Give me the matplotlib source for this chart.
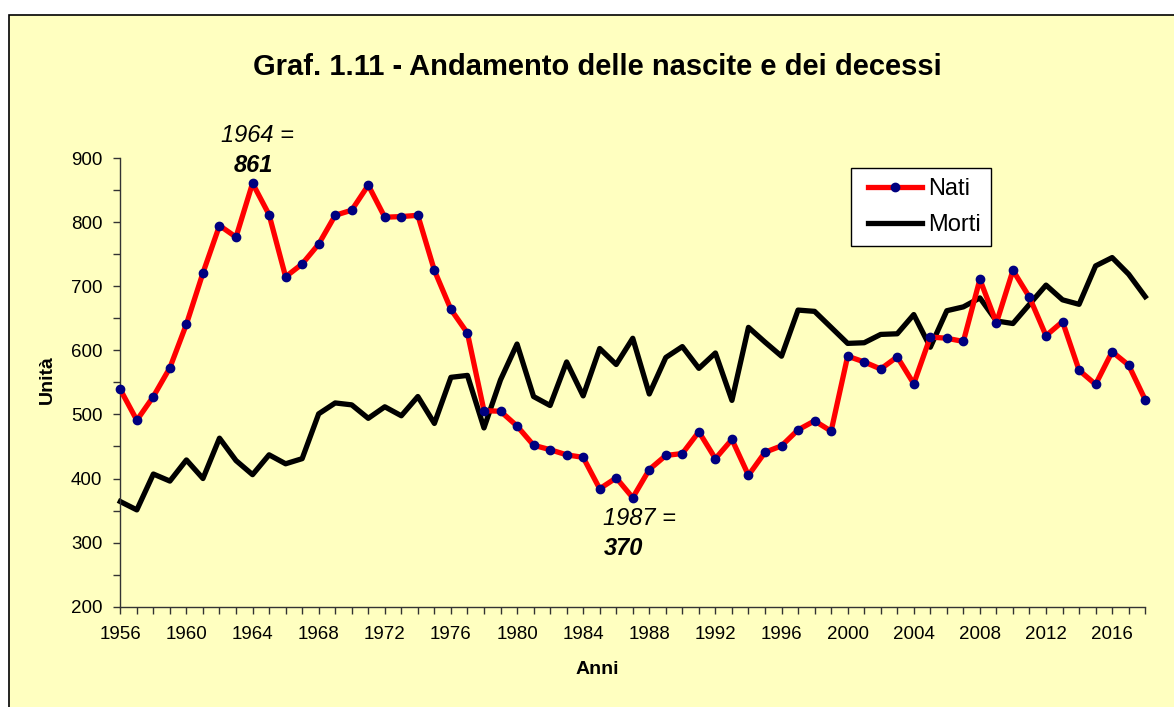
import matplotlib.pyplot as plt
import matplotlib.ticker as mticker
from matplotlib.patches import Rectangle
from matplotlib.legend_handler import HandlerLine2D

plt.rcParams['font.family'] = ['Liberation Sans', 'DejaVu Sans']

# Data
anni = list(range(1956, 2019))
nati = [539, 491, 528, 573, 641, 721, 795, 777, 861, 812,
        715, 735, 766, 811, 819, 858, 808, 809, 811, 725,
        664, 627, 506, 505, 482, 452, 445, 437, 433, 384,
        401, 370, 414, 436, 439, 473, 431, 461, 405, 441,
        451, 476, 490, 474, 591, 582, 571, 590, 548, 621,
        619, 614, 711, 643, 725, 683, 623, 645, 569, 547,
        598, 577, 523]
morti = [364, 351, 407, 396, 429, 400, 463, 428, 406, 437,
         423, 431, 501, 518, 515, 494, 512, 498, 528, 486,
         558, 561, 479, 554, 610, 528, 514, 582, 529, 603,
         578, 619, 532, 589, 606, 572, 596, 522, 636, 613,
         591, 663, 661, 636, 611, 612, 625, 626, 656, 605,
         662, 668, 682, 646, 642, 672, 702, 679, 672, 732,
         745, 719, 684]

W, H = 1174, 707
fig = plt.figure(figsize=(W / 100, H / 100), dpi=100)
fig.patch.set_facecolor('white')

# yellow chart area with border
bg = Rectangle((9 / W, -0.05), 1.2, 1 - 15 / H + 0.05,
               transform=fig.transFigure, facecolor='#FFFFC0',
               edgecolor='black', linewidth=1.2, zorder=-10)
fig.add_artist(bg)

ax = fig.add_axes([120.3 / W, 1 - 606.6 / H, (1145.2 - 120.3) / W, (606.6 - 158.3) / H])
ax.set_facecolor('none')
ax.set_zorder(1)

ax.plot(anni, nati, color='red', linewidth=3.8, marker='o', markersize=6,
        markerfacecolor='#000080', markeredgecolor='#000080', label='Nati',
        clip_on=False, zorder=3)
ax.plot(anni, morti, color='black', linewidth=3.8, label='Morti',
        clip_on=False, zorder=2)

ax.set_xlim(1956, 2018)
ax.set_ylim(200, 900)

ax.xaxis.set_major_locator(mticker.MultipleLocator(4))
ax.xaxis.set_minor_locator(mticker.MultipleLocator(1))
ax.yaxis.set_major_locator(mticker.MultipleLocator(100))
ax.yaxis.set_minor_locator(mticker.MultipleLocator(50))

for s in ['top', 'right']:
    ax.spines[s].set_visible(False)
for s in ['left', 'bottom']:
    ax.spines[s].set_color('#333333')
    ax.spines[s].set_linewidth(1.0)

ax.tick_params(axis='both', which='both', direction='out', color='#333333',
               width=1.0, labelsize=13.5)
ax.tick_params(axis='x', which='both', length=5, pad=9)
ax.tick_params(axis='y', which='both', length=5, pad=8)

# titles
fig.text(597 / W, 1 - 67 / H, 'Graf. 1.11 - Andamento delle nascite e dei decessi',
         ha='center', va='center', fontsize=21, fontweight='bold')
fig.text(47 / W, 1 - 380 / H, 'Unità', rotation=90, ha='center', va='center',
         fontsize=14, fontweight='bold')
fig.text(597 / W, 1 - 670 / H, 'Anni', ha='center', va='center',
         fontsize=14, fontweight='bold')

# notes on min and max
ax.text(1964.27, 936, '1964 =', ha='center', va='center', fontsize=17,
        style='italic', clip_on=False)
ax.text(1964.07, 889.5, '861', ha='center', va='center', fontsize=17,
        style='italic', fontweight='bold', clip_on=False)
ax.text(1987.38, 338, '1987 =', ha='center', va='center', fontsize=17,
        style='italic', clip_on=False)
ax.text(1986.44, 291.5, '370', ha='center', va='center', fontsize=17,
        style='italic', fontweight='bold', clip_on=False)

leg = ax.legend(loc='upper left', bbox_to_anchor=(851 / W, 1 - 168 / H),
                bbox_transform=fig.transFigure, borderaxespad=0, fontsize=17,
                fancybox=False, framealpha=1, edgecolor='black',
                handlelength=2.6, handletextpad=0.25, borderpad=0.42,
                labelspacing=0.6,
                handler_map={ax.lines[0]: HandlerLine2D(xpad=0.3),
                             ax.lines[1]: HandlerLine2D(xpad=0.3)})
leg.get_frame().set_linewidth(1.0)

fig.savefig('out.png', dpi=100, facecolor=fig.get_facecolor())
